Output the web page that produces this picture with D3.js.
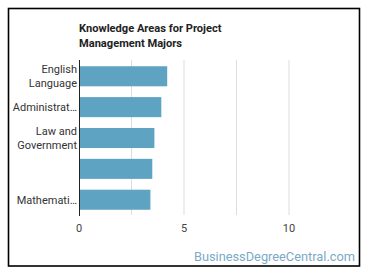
<!DOCTYPE html>
<html>
<head>
<meta charset="utf-8">
<script src="https://cdn.jsdelivr.net/npm/d3@7"></script>
<style>
  body { margin: 0; background: #fff; }
  text { font-family: Roboto, "Noto Sans", sans-serif; }
</style>
</head>
<body>
<svg id="chart"></svg>
<script>
// values
const categories = ['English Language', 'Administration and Management', 'Law and Government', 'Customer and Personal Service', 'Mathematics'];
const shownLabels = [['English', 'Language'], ['Administrat\u2026'], ['Law and', 'Government'], [], ['Mathemati\u2026']];
const values = [4.2, 3.92, 3.59, 3.49, 3.4];
const tickValues = [0, 5, 10];
const gridValues = [2.5, 5, 7.5, 10];

var width = 370;
var height = 278;

var svg = d3.select("#chart")
  .attr("width", width)
  .attr("height", height);

svg.append("rect")
  .attr("x", 8.5).attr("y", 8.5)
  .attr("width", 351).attr("height", 257.5)
  .attr("fill", "#fff")
  .attr("stroke", "#000")
  .attr("stroke-width", 1.6);

var x = d3.scaleLinear().domain([0, 12.5]).range([79, 341.5]);
var y = d3.scaleBand().domain(categories).range([61, 215]).paddingInner(0.35).paddingOuter(0.17);

// title
svg.append("text")
  .attr("x", 79).attr("y", 32)
  .attr("font-size", 11.1).attr("font-weight", "bold").attr("fill", "#222")
  .selectAll("tspan")
  .data(["Knowledge Areas for Project", "Management Majors"])
  .join("tspan")
  .attr("x", 79)
  .attr("dy", (d, i) => i ? 15 : 0)
  .text(d => d);

// gridlines
svg.selectAll("line.grid")
  .data(gridValues)
  .join("line")
  .attr("class", "grid")
  .attr("x1", d => x(d)).attr("x2", d => x(d))
  .attr("y1", 60).attr("y2", 215)
  .attr("stroke", "#ddd").attr("stroke-width", 1);

svg.selectAll("rect.bar")
  .data(values)
  .join("rect")
  .attr("class", "bar")
  .attr("x", x(0))
  .attr("y", (d, i) => y(categories[i]))
  .attr("width", d => x(d) - x(0))
  .attr("height", y.bandwidth())
  .attr("fill", "#5ea3c1");

// y axis line
svg.append("line")
  .attr("x1", 79.5).attr("x2", 79.5)
  .attr("y1", 60).attr("y2", 216)
  .attr("stroke", "#222").attr("stroke-width", 1);

// category labels
svg.selectAll("text.cat")
  .data(categories)
  .join("text")
  .attr("class", "cat")
  .attr("text-anchor", "end")
  .attr("font-size", 11).attr("fill", "#333")
  .each(function (d, i) {
    var lines = shownLabels[i];
    var cy = y(d) + y.bandwidth() / 2;
    var t = d3.select(this);
    lines.forEach(function (l, j) {
      t.append("tspan")
        .attr("x", 77)
        .attr("y", cy + 4 + (j - (lines.length - 1) / 2) * 14)
        .text(l);
    });
  });

// x tick labels
svg.selectAll("text.tick")
  .data(tickValues)
  .join("text")
  .attr("class", "tick")
  .attr("x", d => x(d))
  .attr("y", 232)
  .attr("text-anchor", "middle")
  .attr("font-size", 11).attr("fill", "#444")
  .text(d => d);

// watermark
svg.append("text")
  .attr("x", 355).attr("y", 261)
  .attr("text-anchor", "end")
  .attr("font-size", 12.8).attr("fill", "#7aaac6")
  .text("BusinessDegreeCentral.com");
</script>
</body>
</html>
